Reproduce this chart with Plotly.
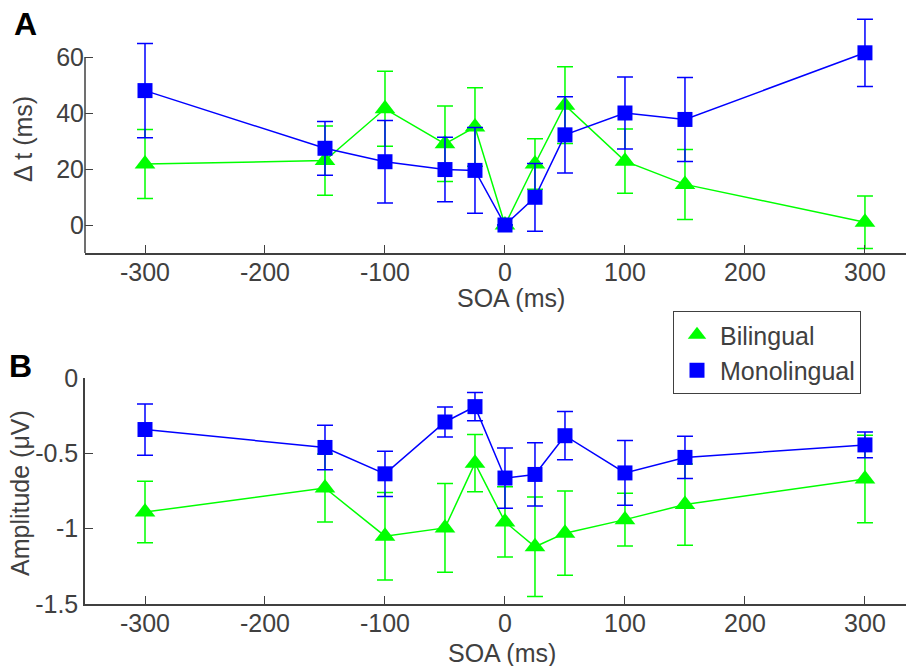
import plotly.graph_objects as go

soa = [-300, -150, -100, -50, -25, 0, 25, 50, 100, 150, 300]

dt_bi = [21.8, 23.0, 41.5, 29.0, 35.0, 0.0, 21.8, 42.8, 22.8, 14.5, 1.0]
dt_bi_err = [12.3, 12.4, 13.4, 13.5, 14.0, 0.0, 9.0, 13.7, 11.5, 12.5, 9.4]
dt_mono = [48.0, 27.4, 22.6, 19.8, 19.5, 0.0, 9.9, 32.2, 40.0, 37.7, 61.5]
dt_mono_err = [16.8, 9.6, 14.7, 11.5, 15.3, 0.0, 12.1, 13.6, 12.9, 15.0, 12.0]

amp_bi = [-0.89, -0.73, -1.05, -0.995, -0.565, -0.955, -1.12, -1.03, -0.94, -0.84, -0.67]
amp_bi_err = [0.204, 0.225, 0.29, 0.295, 0.19, 0.233, 0.33, 0.28, 0.175, 0.27, 0.29]
amp_mono = [-0.342, -0.461, -0.636, -0.292, -0.19, -0.664, -0.64, -0.383, -0.63, -0.527, -0.444]
amp_mono_err = [0.17, 0.148, 0.15, 0.10, 0.094, 0.20, 0.21, 0.16, 0.215, 0.14, 0.086]

x_ticks = [-300, -200, -100, 0, 100, 200, 300]
x_labels = ["-300", "-200", "-100", "0", "100", "200", "300"]
yA_ticks = [0, 20, 40, 60]
yA_labels = ["0", "20", "40", "60"]
yB_ticks = [-1.5, -1, -0.5, 0]
yB_labels = ["-1.5", "-1", "-0.5", "0"]

GREEN = "#00ff00"
BLUE = "#0000ff"
GREY = "#404040"
FONT = "Liberation Sans, Arial, sans-serif"
FS = 25
W, H = 906, 666
L = 85


def px(xp):
    return (xp - L) / (W - L)


def py(yp):
    return 1 - yp / H


fig = go.Figure()


def add_series(x, y, err, color, symbol, size, xa, ya):
    fig.add_trace(go.Scatter(
        x=x, y=y, mode="lines+markers", xaxis=xa, yaxis=ya,
        line=dict(color=color, width=1.5),
        marker=dict(color=color, symbol=symbol, size=size, line=dict(width=0)),
        error_y=dict(type="data", array=err, visible=True, color=color,
                     thickness=1.5, width=8),
        showlegend=False, cliponaxis=False,
    ))


add_series(soa, dt_bi, dt_bi_err, GREEN, "triangle-up", 18, "x", "y")
add_series(soa, dt_mono, dt_mono_err, BLUE, "square", 15, "x", "y")
add_series(soa, amp_bi, amp_bi_err, GREEN, "triangle-up", 18, "x2", "y2")
add_series(soa, amp_mono, amp_mono_err, BLUE, "square", 15, "x2", "y2")

# legend-only entries (marker only)
fig.add_trace(go.Scatter(x=[None], y=[None], mode="markers", name="Bilingual",
                         xaxis="x2", yaxis="y2",
                         marker=dict(color=GREEN, symbol="triangle-up", size=18)))
fig.add_trace(go.Scatter(x=[None], y=[None], mode="markers", name="Monolingual",
                         xaxis="x2", yaxis="y2",
                         marker=dict(color=BLUE, symbol="square", size=15)))

xcommon = dict(range=[-350, 334.2], tickvals=x_ticks, ticktext=x_labels,
               ticks="inside", ticklen=8, ticklabelstandoff=-4,
               tickcolor=GREY, tickwidth=1, showline=True, linecolor=GREY, linewidth=1.5,
               showgrid=False, zeroline=False, domain=[0, 1],
               tickfont=dict(family=FONT, size=FS, color=GREY), automargin=False)

fig.update_layout(
    width=W, height=H,
    margin=dict(l=L, r=0, t=0, b=0),
    paper_bgcolor="white", plot_bgcolor="white",
    xaxis=dict(anchor="y", **xcommon),
    xaxis2=dict(anchor="y2", **xcommon),
    yaxis=dict(range=[-10, 75], tickvals=yA_ticks, ticktext=yA_labels,
               ticks="inside", ticklen=8,
               tickcolor=GREY, showline=False, showgrid=False, zeroline=False,
               domain=[py(253), py(15)], anchor="x",
               tickfont=dict(family=FONT, size=FS, color=GREY), automargin=False),
    yaxis2=dict(range=[-1.5, 0], tickvals=yB_ticks, ticktext=yB_labels, ticks="inside",
                ticklen=8, tickcolor=GREY, showline=True, linecolor=GREY, linewidth=1.5,
                showgrid=False, zeroline=False,
                domain=[py(604), py(378)], anchor="x2",
                tickfont=dict(family=FONT, size=FS, color=GREY), automargin=False),
    legend=dict(x=px(673), y=py(311), xanchor="left", yanchor="top",
                bordercolor=GREY, borderwidth=1, bgcolor="white",
                font=dict(family=FONT, size=FS, color=GREY),
                tracegroupgap=0, itemwidth=36),
    shapes=[dict(type="line", xref="paper", yref="y", x0=0, x1=0, y0=-10, y1=60,
                 line=dict(color=GREY, width=1.5))],
)

annos = [
    dict(text="<b>A</b>", x=px(25), y=py(24), font=dict(size=32, color="black")),
    dict(text="<b>B</b>", x=px(20), y=py(366), font=dict(size=32, color="black")),
    dict(text="Δ t (ms)", x=px(23), y=py(139), textangle=-90),
    dict(text="Amplitude (μV)", x=px(20), y=py(493), textangle=-90),
    dict(text="SOA (ms)", x=px(511), y=py(298)),
    dict(text="SOA (ms)", x=px(502), y=py(653)),
]
for a in annos:
    font = dict(family=FONT, size=FS, color=GREY)
    font.update(a.pop("font", {}))
    fig.add_annotation(xref="paper", yref="paper", showarrow=False,
                       xanchor="center", yanchor="middle", font=font, **a)

fig.write_html("out.html", config={"displayModeBar": False},
               post_script="document.body.style.margin='0';document.body.style.overflow='hidden';")
